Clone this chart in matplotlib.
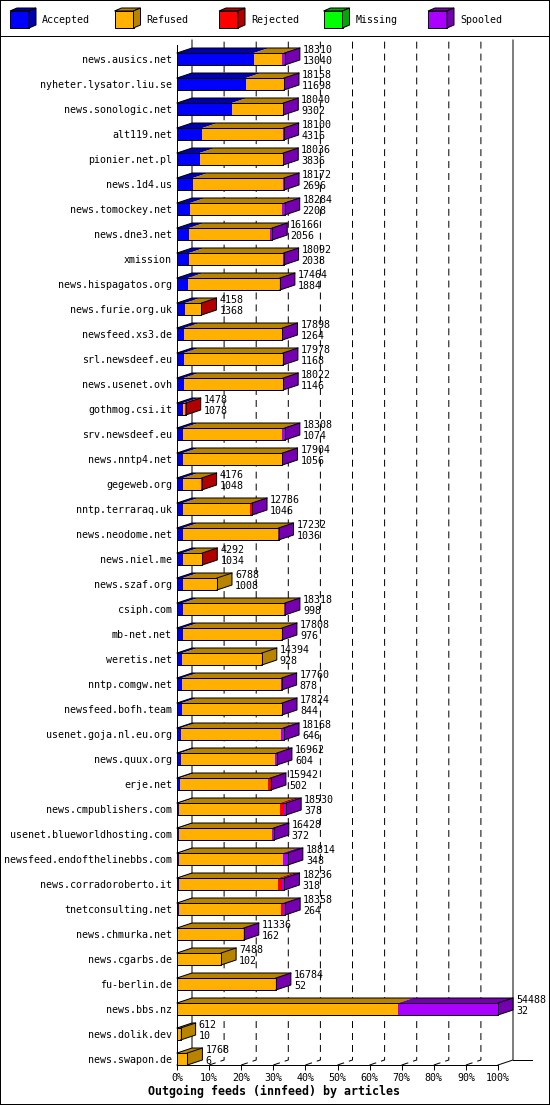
import matplotlib
matplotlib.use("Agg")
import matplotlib.pyplot as plt
from matplotlib.patches import Polygon, Rectangle
from matplotlib.lines import Line2D

# innfeed outgoing feeds
names = [
    "news.ausics.net", "nyheter.lysator.liu.se", "news.sonologic.net", "alt119.net",
    "pionier.net.pl", "news.1d4.us", "news.tomockey.net", "news.dne3.net", "xmission",
    "news.hispagatos.org", "news.furie.org.uk", "newsfeed.xs3.de", "srl.newsdeef.eu",
    "news.usenet.ovh", "gothmog.csi.it", "srv.newsdeef.eu", "news.nntp4.net",
    "gegeweb.org", "nntp.terraraq.uk", "news.neodome.net", "news.niel.me",
    "news.szaf.org", "csiph.com", "mb-net.net", "weretis.net", "nntp.comgw.net",
    "newsfeed.bofh.team", "usenet.goja.nl.eu.org", "news.quux.org", "erje.net",
    "news.cmpublishers.com", "usenet.blueworldhosting.com",
    "newsfeed.endofthelinebbs.com", "news.corradoroberto.it", "tnetconsulting.net",
    "news.chmurka.net", "news.cgarbs.de", "fu-berlin.de", "news.bbs.nz",
    "news.dolik.dev", "news.swapon.de",
]
offered = [
    18310, 18158, 18040, 18100, 18036, 18172, 18284, 16166, 18092, 17464,
    4158, 17898, 17978, 18022, 1478, 18308, 17904, 4176, 12736, 17232,
    4292, 6788, 18318, 17808, 14394, 17760, 17824, 18168, 16962, 15942,
    18530, 16428, 18814, 18236, 18358, 11336, 7488, 16784, 54488, 612, 1768,
]
accepted = [
    13040, 11698, 9302, 4316, 3836, 2696, 2208, 2056, 2038, 1884,
    1368, 1264, 1168, 1146, 1078, 1074, 1056, 1048, 1046, 1036,
    1034, 1008, 998, 976, 928, 878, 844, 646, 604, 502,
    378, 372, 348, 318, 264, 162, 102, 52, 32, 10, 6,
]
refused = [
    4850, 6400, 8688, 13734, 14150, 15226, 15676, 13760, 15884, 15540,
    2750, 16594, 16770, 16836, 220, 16834, 16808, 3088, 11420, 16156,
    3218, 5780, 17120, 16792, 13466, 16842, 16940, 16962, 16108, 14950,
    17072, 15716, 17566, 16898, 17414, 11134, 7386, 16692, 37530, 602, 1762,
]
rejected = [
    0, 0, 0, 0, 0, 0, 0, 0, 0, 0,
    40, 0, 0, 0, 180, 0, 0, 40, 230, 0,
    40, 0, 0, 0, 0, 0, 0, 0, 0, 450,
    740, 0, 0, 680, 280, 0, 0, 0, 0, 0, 0,
]
missing = [0] * len(names)
spooled = [
    420, 60, 50, 50, 50, 250, 400, 350, 170, 40,
    0, 40, 40, 40, 0, 400, 40, 0, 40, 40,
    0, 0, 200, 40, 0, 40, 40, 560, 250, 40,
    340, 340, 900, 340, 400, 40, 0, 40, 16926, 0, 0,
]
series_labels = ["Accepted", "Refused", "Rejected", "Missing", "Spooled"]
xticks = [0, 10, 20, 30, 40, 50, 60, 70, 80, 90, 100]

front_colors = ["#0000ff", "#ffb000", "#ff0000", "#00ff00", "#aa00ff"]
dark_colors = ["#0000b0", "#b88400", "#b00000", "#00a800", "#7400b0"]

W, H, DPI = 550, 1105, 100
LW = 72.0 / DPI  # one pixel in points
FONT = "DejaVu Sans Mono"
plt.rcParams["font.family"] = FONT
plt.rcParams["lines.scale_dashes"] = False

fig = plt.figure(figsize=(W / DPI, H / DPI), dpi=DPI)
fig.patch.set_facecolor("white")

# plot area: x 0..100 % from px 177 to 498, front floor at px 1065
ax = fig.add_axes([177 / W, 40 / H, 321 / W, 1020 / H])
n = len(names)
row_px = 25.0
y_floor = (1065 - 59) / row_px
y_top = (45 - 59) / row_px
ax.set_xlim(0, 100)
ax.set_ylim(y_floor, y_top)
dx = 15 * 100 / 321.0  # depth offset in percent
dy = 5 / row_px          # depth offset in rows
half = 6 / row_px
y_back_top = (40 - 59) / row_px

scale = max(offered)

# back wall lines
for t in xticks:
    xs = [t, t + dx, t + dx]
    ys = [y_floor, y_floor - dy, y_back_top]
    if t in (0, 100):
        ax.add_line(Line2D(xs, ys, color="black", lw=LW, clip_on=False, zorder=1))
    else:
        ax.add_line(Line2D(xs, ys, color="black", lw=LW, ls=(0, (5, 3.6)),
                           clip_on=False, zorder=1))
ax.add_line(Line2D([100 + dx, 110.6], [y_floor - dy] * 2, color="black", lw=LW,
                   clip_on=False, zorder=1))

for i in range(n):
    yc = i
    segs = [accepted[i], refused[i], rejected[i], missing[i], spooled[i]]
    x = 0.0
    last = 0
    for k, v in enumerate(segs):
        if v <= 0:
            continue
        w = v / scale * 100
        ax.add_patch(Rectangle((x, yc - half), w, 2 * half, fc=front_colors[k],
                               lw=0, clip_on=False, zorder=3))
        ax.add_patch(Polygon([(x, yc - half), (x + w, yc - half),
                              (x + w + dx, yc - half - dy), (x + dx, yc - half - dy)],
                             closed=True, fc=dark_colors[k], lw=0, clip_on=False, zorder=3))
        x += w
        last = k
    ax.add_patch(Polygon([(x, yc - half), (x + dx, yc - half - dy),
                          (x + dx, yc + half - dy), (x, yc + half)],
                         closed=True, fc=dark_colors[last], lw=0, clip_on=False, zorder=3))
    # outline of the whole box: front face, then top and side
    ax.add_line(Line2D([0, x, x, 0, 0], [yc + half, yc + half, yc - half, yc - half, yc + half],
                       color="black", lw=LW, clip_on=False, zorder=4))
    ax.add_line(Line2D([0, dx, x + dx, x + dx, x],
                       [yc - half, yc - half - dy, yc - half - dy, yc + half - dy, yc + half],
                       color="black", lw=LW, clip_on=False, zorder=4))
    ax.add_line(Line2D([x, x + dx], [yc - half, yc - half - dy], color="black", lw=LW,
                       clip_on=False, zorder=4))
    tx = x + dx + 3 * 100 / 321.0
    ax.text(tx, yc - 9 / row_px, str(offered[i]), fontsize=7.2, ha="left", va="center",
            clip_on=False, zorder=5)
    ax.text(tx, yc + 2 / row_px, str(accepted[i]), fontsize=7.2, ha="left", va="center",
            clip_on=False, zorder=5)

ax.set_yticks(range(n))
ax.set_yticklabels(names, fontsize=7.2)
ax.tick_params(axis="y", length=0, pad=3.6)
ax.set_xticks(xticks)
ax.set_xticklabels([f"{t}%" for t in xticks], fontsize=7.2)
ax.tick_params(axis="x", direction="out", length=3.6, width=LW, pad=2)
for side in ("top", "right"):
    ax.spines[side].set_visible(False)
for side in ("bottom", "left"):
    ax.spines[side].set_linewidth(LW)
ax.set_facecolor("none")

fig.text(274 / W, 1 - 1091 / H, "Outgoing feeds (innfeed) by articles",
         fontsize=8.4, fontweight="bold", ha="center", va="center")

# legend strip at the top
lax = fig.add_axes([0, 1 - 35 / H, 1, 35 / H])
lax.set_xlim(0, W)
lax.set_ylim(35, 0)
lax.axis("off")
for k, lab in enumerate(series_labels):
    x0 = 10 + 104.5 * k
    lax.add_patch(Rectangle((x0, 11), 19, 17, fc=front_colors[k], ec="black", lw=LW))
    lax.add_patch(Polygon([(x0, 11), (x0 + 7, 8), (x0 + 26, 8), (x0 + 19, 11)],
                          closed=True, fc=dark_colors[k], ec="black", lw=LW))
    lax.add_patch(Polygon([(x0 + 19, 11), (x0 + 26, 8), (x0 + 26, 25), (x0 + 19, 28)],
                          closed=True, fc=dark_colors[k], ec="black", lw=LW))
    lax.text(x0 + 32, 20, lab, fontsize=7.2, ha="left", va="center")

fig.add_artist(Line2D([0, 1], [1 - 35.5 / H] * 2, color="black", lw=LW,
                      transform=fig.transFigure))
fig.add_artist(Rectangle((0, 0), 1, 1, transform=fig.transFigure, fill=False,
                         ec="black", lw=2 * LW))

fig.savefig("out.png", dpi=DPI)
